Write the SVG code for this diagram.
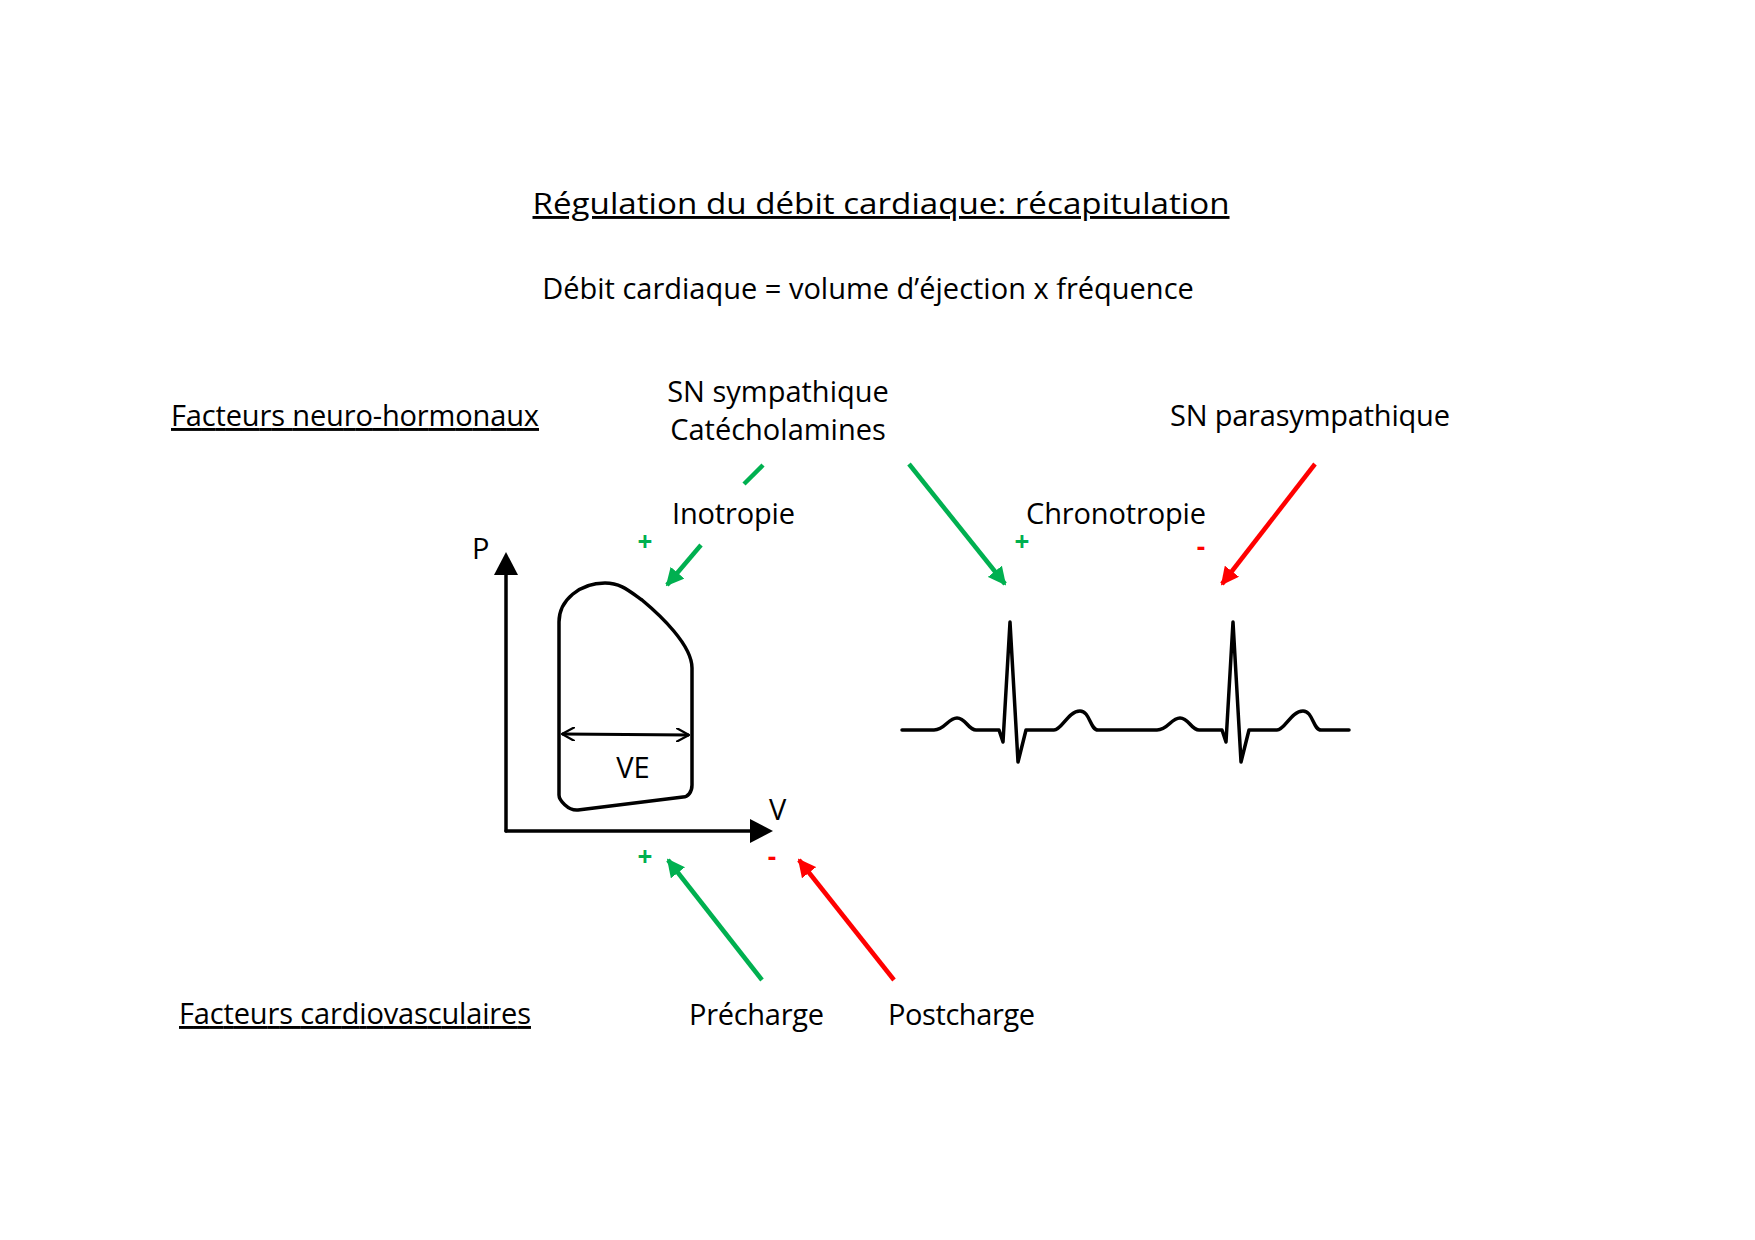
<svg xmlns="http://www.w3.org/2000/svg" width="1755" height="1240" viewBox="0 0 1755 1240">
<style>
text{font-family:"Open Sans","Liberation Sans",sans-serif;font-size:29px;fill:#000}
.u{text-decoration:underline}
.c{text-anchor:middle}
.g{fill:#00b050;font-weight:bold;font-size:26px}
.r{fill:#ff0000;font-weight:bold;font-size:26px}
.k{fill:none;stroke:#000;stroke-width:3.5;stroke-linejoin:round;stroke-linecap:round}
.gl{stroke:#00b050;stroke-width:4.5;fill:none}
.rl{stroke:#ff0000;stroke-width:4.5;fill:none}
</style>
<defs>
<marker id="ag" viewBox="0 0 10 10" refX="9" refY="5" markerWidth="4" markerHeight="4" orient="auto"><path d="M0,0L10,5L0,10z" fill="#00b050"/></marker>
<marker id="ar" viewBox="0 0 10 10" refX="9" refY="5" markerWidth="4" markerHeight="4" orient="auto"><path d="M0,0L10,5L0,10z" fill="#ff0000"/></marker>
<marker id="ao" viewBox="0 0 12 12" refX="11" refY="6" markerWidth="14" markerHeight="14" orient="auto-start-reverse" markerUnits="userSpaceOnUse"><path d="M0,0L11,6L0,12" fill="none" stroke="#000" stroke-width="2"/></marker>
</defs>
<rect width="1755" height="1240" fill="#fff"/>
<g id="texts">
<text class="u c" x="881" y="214" font-size="32" textLength="697" lengthAdjust="spacingAndGlyphs">Régulation du débit cardiaque: récapitulation</text>
<text class="c" x="868" y="299">Débit cardiaque = volume d’éjection x fréquence</text>
<text class="u" x="171" y="426" textLength="368">Facteurs neuro-hormonaux</text>
<text class="c" x="778" y="402">SN sympathique</text>
<text class="c" x="778" y="440">Catécholamines</text>
<text x="1170" y="426" textLength="280">SN parasympathique</text>
<text x="672" y="524" textLength="123">Inotropie</text>
<text x="1026" y="524" textLength="180">Chronotropie</text>
<text class="u" x="179" y="1024" textLength="352">Facteurs cardiovasculaires</text>
<text x="689" y="1025" textLength="135">Précharge</text>
<text x="888" y="1025" textLength="147">Postcharge</text>
<text x="472" y="559">P</text>
<text x="769" y="820">V</text>
<text class="c" x="633" y="778">VE</text>
<text class="g c" x="645" y="551">+</text>
<text class="g c" x="1022" y="551">+</text>
<text class="r c" x="1201" y="556">-</text>
<text class="g c" x="645" y="866">+</text>
<text class="r c" x="772" y="866">-</text>
</g>
<g id="pv-loop">
<line class="k" x1="506" y1="831" x2="506" y2="570"/>
<path d="M494,575L506,552L518,575z" fill="#000"/>
<line class="k" x1="506" y1="831" x2="755" y2="831"/>
<path d="M750,819L773,831L750,843z" fill="#000"/>
<path class="k" d="M559,622C559,600 580,583 605,583C620,583 628,590 642,600C660,615 692,645 692,668L692,785C692,792 688,797 683,797L578,810C568,811 559,800 559,795Z"/>
<line x1="562" y1="734" x2="689" y2="735" stroke="#000" stroke-width="3" marker-start="url(#ao)" marker-end="url(#ao)"/>
</g>
<g id="ecg">
<path class="k" stroke-width="3" d="M902,730H934C945,730 948,718 957,718C966,718 968,730 976,730H999L1003,742L1010,622L1018,762L1026,730H1054C1062,730 1068,711 1080,711C1090,711 1090,730 1098,730H1125H1157C1168,730 1171,718 1180,718C1189,718 1191,730 1199,730H1222L1226,742L1233,622L1241,762L1249,730H1277C1285,730 1291,711 1303,711C1313,711 1313,730 1321,730H1349"/>
</g>
<g id="connectors">
<line class="gl" x1="763" y1="465" x2="744" y2="484"/>
<line class="gl" x1="701" y1="545" x2="667" y2="585" marker-end="url(#ag)"/>
<line class="gl" x1="909" y1="464" x2="1005" y2="584" marker-end="url(#ag)"/>
<line class="rl" x1="1315" y1="464" x2="1222" y2="584" marker-end="url(#ar)"/>
<line class="gl" x1="762" y1="980" x2="668" y2="860" marker-end="url(#ag)"/>
<line class="rl" x1="894" y1="980" x2="799" y2="860" marker-end="url(#ar)"/>
</g>
</svg>
